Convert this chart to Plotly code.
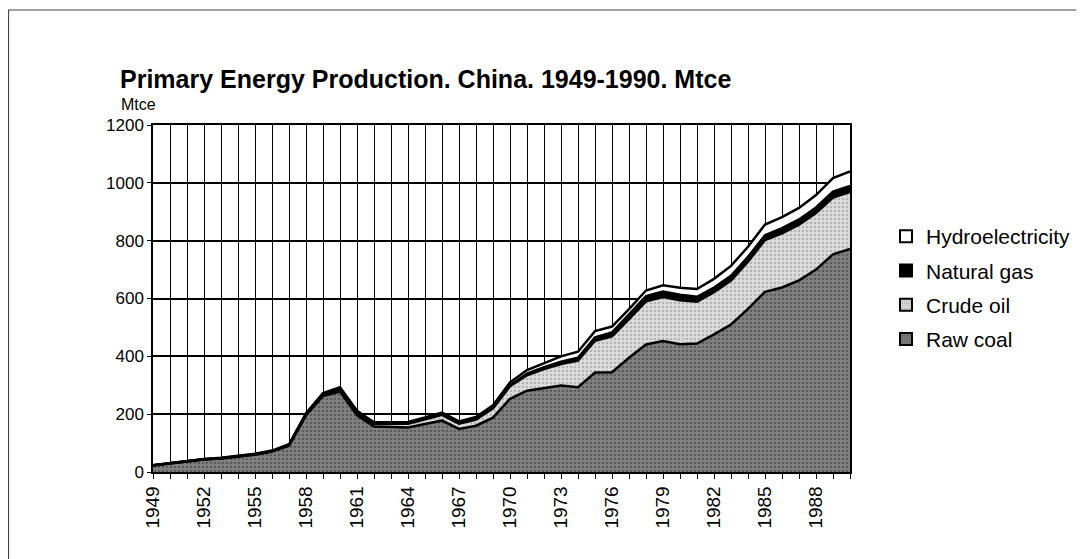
import plotly.graph_objects as go

# --- data (Mtce) ---
years = list(range(1949, 1991))
raw_coal = [22.8, 30.0, 35.5, 43.5, 47.0, 52.5, 60.0, 70.5, 91.0, 196.0,
            263.0, 278.0, 196.0, 157.0, 155.0, 154.0, 166.0, 178.0, 149.0, 160.0,
            188.0, 253.0, 281.0, 291.0, 299.0, 293.0, 344.0, 345.0, 395.0, 441.0,
            453.0, 442.0, 444.0, 476.0, 510.0, 564.0, 623.0, 638.0, 663.0, 700.0,
            753.0, 771.0]
crude_oil = [0.2, 0.3, 0.5, 0.6, 0.9, 1.1, 1.4, 1.7, 2.1, 3.2,
             5.2, 7.5, 7.6, 9.3, 10.6, 12.6, 16.2, 19.7, 18.0, 21.0,
             32.0, 43.7, 53.7, 64.6, 74.4, 92.0, 110.0, 124.0, 134.0, 149.0,
             152.0, 152.0, 145.0, 146.0, 152.0, 163.5, 179.0, 187.0, 192.0, 195.5,
             196.0, 197.5]
natural_gas = [0.0, 0.0, 0.0, 0.0, 0.0, 0.0, 0.0, 0.0, 0.1, 0.2,
               0.5, 1.4, 2.2, 1.6, 1.6, 1.6, 1.5, 1.8, 2.0, 2.2,
               3.0, 3.7, 5.2, 6.7, 8.0, 10.0, 11.7, 14.0, 16.0, 18.2,
               19.4, 19.1, 17.1, 16.0, 16.4, 16.4, 17.0, 18.5, 18.3, 19.2,
               20.3, 20.8]
hydro = [0.7, 0.9, 1.0, 0.9, 1.1, 1.4, 1.6, 1.8, 2.8, 3.5,
         4.4, 6.0, 6.0, 4.0, 4.3, 5.0, 4.9, 6.0, 6.0, 7.0,
         8.0, 9.6, 12.7, 14.7, 18.4, 21.0, 21.5, 20.0, 18.0, 19.5,
         21.3, 24.2, 26.6, 30.0, 34.2, 35.0, 36.8, 38.0, 40.0, 43.0,
         46.8, 49.9]

y_ticks = [0, 200, 400, 600, 800, 1000, 1200]
x_ticktext = [str(y) if (y - 1949) % 3 == 0 else "" for y in years]

FONT = "Liberation Sans, Arial, sans-serif"

# page body has an 8px margin, so the figure is 8px smaller and shifted
W, H = 1076, 551
PL, PR, PT, PB = 145, 842, 117, 464  # plot area in figure pixels


def px(x):
    return (x - PL) / (PR - PL)


def py(y):
    return (PB - y) / (PB - PT)


series = [
    ("Raw coal", raw_coal, dict(shape=".", bgcolor="#828282", fgcolor="#333333", size=4, solidity=0.35)),
    ("Crude oil", crude_oil, dict(shape=".", bgcolor="#dcdcdc", fgcolor="#8a8a8a", size=4, solidity=0.3)),
    ("Natural gas", natural_gas, None),
    ("Hydroelectricity", hydro, None),
]
solid = {"Natural gas": "black", "Hydroelectricity": "white"}

fig = go.Figure()

for name, vals, pat in series:
    kw = dict(
        x=years, y=vals, name=name, mode="lines",
        stackgroup="one",
        line=dict(color="black", width=2.5),
        showlegend=False,
        hoverinfo="x+y+name",
    )
    if pat:
        kw["fillcolor"] = pat["bgcolor"]
        kw["fillpattern"] = pat
    else:
        kw["fillcolor"] = solid[name]
    fig.add_trace(go.Scatter(**kw))

# square legend boxes (dummy bars), one group each to space them out
for rank, (name, vals, pat) in enumerate(series):
    marker = dict(line=dict(color="black", width=1.5))
    if pat:
        marker["color"] = pat["bgcolor"]
        marker["pattern"] = dict(shape=".", bgcolor=pat["bgcolor"], fgcolor=pat["fgcolor"],
                                 size=3, solidity=0.4)
    else:
        marker["color"] = solid[name]
    fig.add_trace(go.Bar(x=[None], y=[None], name=name, marker=marker,
                         legendgroup=name, legendrank=1000 - rank, showlegend=True))

fig.update_layout(
    width=W, height=H,
    margin=dict(l=PL, r=W - PR, t=PT, b=H - PB, autoexpand=False),
    paper_bgcolor="white", plot_bgcolor="white",
    font=dict(family=FONT, size=17, color="black"),
    title=dict(text="<b>Primary Energy Production. China. 1949-1990. Mtce</b>",
               x=112 / W, xanchor="left", y=1 - 71 / H, yanchor="middle",
               font=dict(family=FONT, size=25, color="black")),
    legend=dict(x=px(878), xanchor="left", y=py(208), yanchor="top",
                traceorder="grouped", font=dict(family=FONT, size=21),
                itemsizing="constant", tracegroupgap=4, itemwidth=30,
                bgcolor="rgba(0,0,0,0)"),
    showlegend=True,
)

fig.update_xaxes(
    range=[1949, 1990], tickmode="array", tickvals=years, ticktext=x_ticktext,
    tickangle=-90, ticks="outside", ticklen=5, tickcolor="black", tickwidth=1,
    showgrid=True, gridcolor="black", gridwidth=1,
    showline=True, linecolor="black", linewidth=1.5, mirror=True,
    zeroline=False, automargin=False, tickfont=dict(family=FONT, size=19),
)
fig.update_yaxes(
    range=[0, 1200], tickmode="array", tickvals=y_ticks,
    ticks="outside", ticklen=4, tickcolor="black",
    showgrid=True, gridcolor="black", gridwidth=1.5,
    showline=True, linecolor="black", linewidth=1.5, mirror=True,
    zeroline=False, automargin=False, tickfont=dict(family=FONT, size=17),
)

# y-axis unit label
fig.add_annotation(text="Mtce", xref="paper", yref="paper",
                   x=px(111), y=py(96),
                   xanchor="left", yanchor="middle", showarrow=False,
                   font=dict(family=FONT, size=16, color="black"))

# outer chart frame
fig.add_shape(type="rect", xref="paper", yref="paper",
              x0=px(0.5), x1=px(1073), y0=py(600), y1=py(2),
              line=dict(color="#444444", width=1.2), layer="below")

fig.write_html("out.html")
